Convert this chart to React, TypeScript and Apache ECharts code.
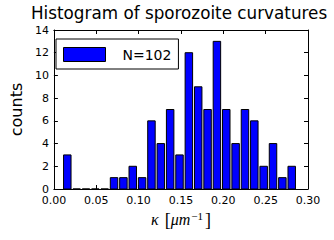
import React, { useEffect, useRef } from "react";
import * as echarts from "echarts";

const binStart = 0.0103;
const binWidth = 0.01104;
const counts = [3, 0, 0, 0, 0, 1, 1, 2, 1, 6, 4, 7, 3, 12, 9, 7, 13, 7, 4, 7, 6, 2, 4, 1, 2];
const xTicks = [0, 0.05, 0.1, 0.15, 0.2, 0.25, 0.3];
const yTicks = [0, 2, 4, 6, 8, 10, 12, 14];
const titleText = "Histogram of sporozoite curvatures";
const legendLabel = "N=102";

export default function App() {
  const ref = useRef<HTMLDivElement>(null);
  useEffect(() => {
    if (!ref.current) return;
    const chart = echarts.init(ref.current, undefined, { renderer: "svg" });
    const data = counts.map((c, i) => [binStart + i * binWidth, binStart + (i + 1) * binWidth, c]);
    const font = "DejaVu Sans";
    const axisCommon = {
      type: "value" as const,
      axisLine: { show: true, onZero: false, lineStyle: { color: "#000", width: 1 } },
      axisTick: { show: true, inside: true, length: 4, lineStyle: { color: "#000" } },
      splitLine: { show: false },
    };
    chart.setOption({
      animation: false,
      backgroundColor: "#fff",
      title: {
        text: titleText,
        left: 31,
        top: 4,
        padding: 0,
        textStyle: { fontFamily: font, fontSize: 16.8, fontWeight: "normal", color: "#000" },
      },
      legend: {
        left: 56,
        top: 39,
        padding: [8, 7, 7, 7],
        itemWidth: 42,
        itemHeight: 14,
        borderColor: "#000",
        borderWidth: 1,
        borderRadius: 0,
        backgroundColor: "#fff",
        selectedMode: false,
        textStyle: { fontFamily: font, fontSize: 14, color: "#000", padding: [0, 0, 0, 12] },
        data: [
          {
            name: legendLabel,
            icon: "rect",
            itemStyle: { color: "#0000ff", borderColor: "#000", borderWidth: 1 },
          },
        ],
      },
      grid: { left: 46, right: 26, top: 30, bottom: 51 },
      xAxis: [
        {
          ...axisCommon,
          position: "bottom",
          min: 0,
          max: 0.3,
          interval: 0.05,
          axisLabel: {
            show: true,
            margin: 6,
            lineHeight: 10,
            fontFamily: font,
            fontSize: 11,
            color: "#000",
            formatter: (v: number) => v.toFixed(2),
            customValues: xTicks,
          },
          name: "{k|κ}{n|[}{i|μm}{s|−1}{n|]}",
          nameLocation: "middle",
          nameGap: 19,
          nameTextStyle: {
            rich: {
              k: { fontFamily: "Liberation Serif", fontStyle: "italic", fontSize: 16, color: "#000", padding: [0, 6, 0, 0] },
              i: { fontFamily: "Liberation Serif", fontStyle: "italic", fontSize: 16, color: "#000" },
              n: { fontFamily: "Liberation Serif", fontSize: 18, color: "#000" },
              s: { fontFamily: "Liberation Serif", fontSize: 11, color: "#000", verticalAlign: "top", padding: [0, 2, 8, 1] },
            },
          },
        },
        {
          ...axisCommon,
          position: "top",
          min: 0,
          max: 0.3,
          interval: 0.05,
          axisLabel: { show: false },
        },
      ],
      yAxis: [
        {
          ...axisCommon,
          position: "left",
          min: 0,
          max: 14,
          interval: 2,
          axisLabel: {
            show: true,
            margin: 5,
            lineHeight: 8,
            padding: [0, 0, 2, 0],
            fontFamily: font,
            fontSize: 11,
            color: "#000",
            customValues: yTicks,
          },
          name: "counts",
          nameLocation: "middle",
          nameGap: 24,
          nameTextStyle: { fontFamily: font, fontSize: 16, color: "#000" },
        },
        {
          ...axisCommon,
          position: "right",
          min: 0,
          max: 14,
          interval: 2,
          axisLabel: { show: false },
        },
      ],
      series: [
        {
          name: legendLabel,
          type: "custom",
          xAxisIndex: 0,
          yAxisIndex: 0,
          itemStyle: { color: "#0000ff", borderColor: "#000", borderWidth: 1 },
          encode: { x: [0, 1], y: 2 },
          data,
          renderItem: (params: any, api: any) => {
            const x0 = api.value(0);
            const x1 = api.value(1);
            const h = api.value(2);
            const w = x1 - x0;
            const p0 = api.coord([x0 + 0.1 * w, h]);
            const p1 = api.coord([x1 - 0.1 * w, 0]);
            return {
              type: "rect",
              shape: { x: p0[0], y: p0[1], width: p1[0] - p0[0], height: p1[1] - p0[1] },
              style: { fill: "#0000ff", stroke: "#000", lineWidth: 1 },
            };
          },
        },
      ],
    });
    return () => chart.dispose();
  }, []);
  return <div ref={ref} style={{ position: "fixed", left: 0, top: 0, width: 334, height: 240 }} />;
}
